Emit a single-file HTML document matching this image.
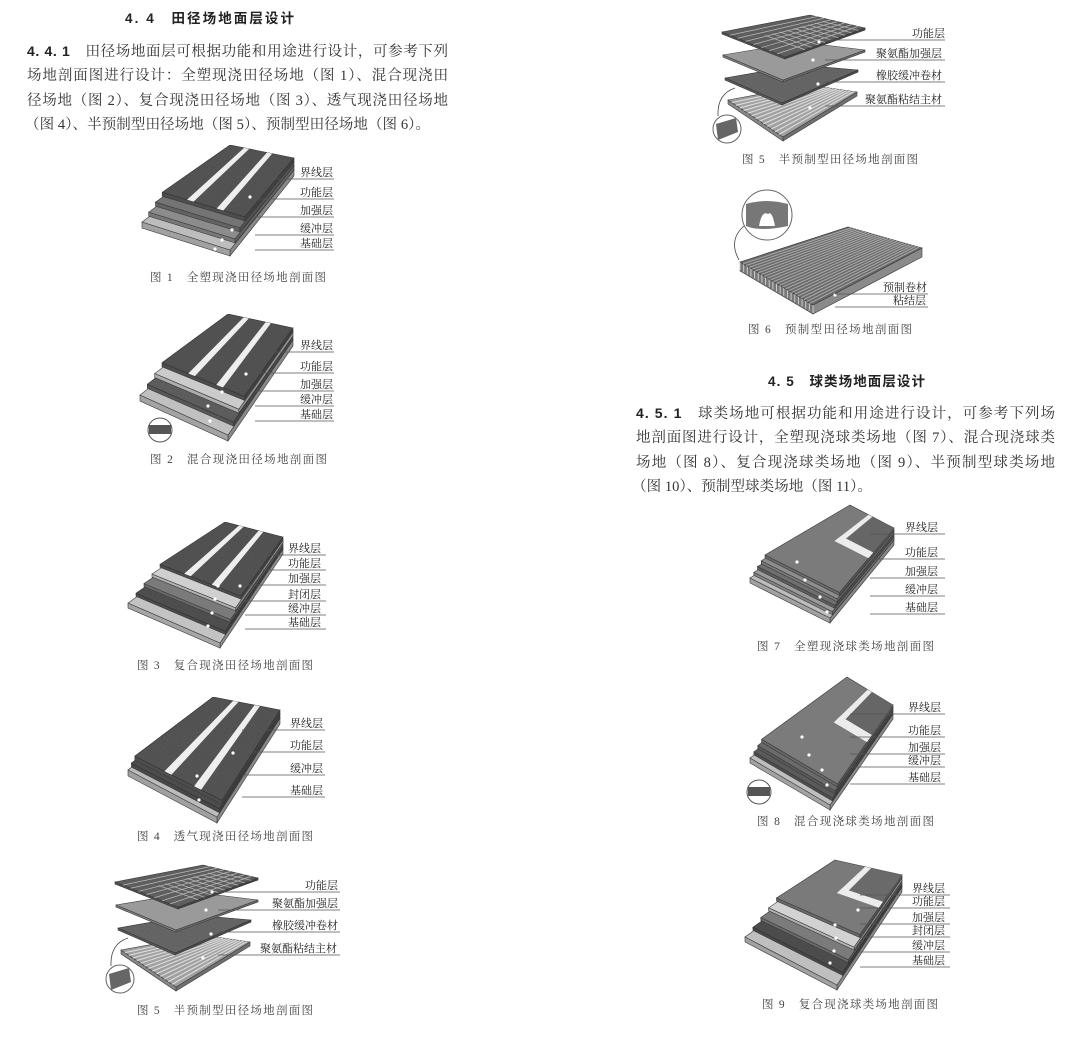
<!DOCTYPE html>
<html><head><meta charset="utf-8">
<style>
html,body{margin:0;padding:0;background:#fff;}
svg{display:block;}
text{font-family:"Liberation Serif","Noto Serif CJK SC","Noto Sans CJK SC",serif;fill:#333;}
.b{font-family:"Liberation Sans","Noto Sans CJK SC",sans-serif;font-weight:bold;fill:#222;}
.p{font-size:14.5px;}
.l{font-size:11px;fill:#222;}
.c{font-size:11.5px;fill:#444;}
</style></head>
<body>
<svg id="s" width="1090" height="1052" viewBox="0 0 1090 1052" xmlns="http://www.w3.org/2000/svg">
<defs>
<filter id="spk" x="0" y="0" width="100%" height="100%">
<feTurbulence type="fractalNoise" baseFrequency="0.9" numOctaves="1" result="n"/>
<feColorMatrix in="n" type="matrix" values="0 0 0 0 0  0 0 0 0 0  0 0 0 0 0  0 0 0 0.35 0" result="a"/>
<feComposite in="a" in2="SourceGraphic" operator="in" result="m"/>
<feMerge><feMergeNode in="SourceGraphic"/><feMergeNode in="m"/></feMerge>
</filter>
</defs>
<g id="shapes"></g>
<g id="labels">
<text class="b" x="125" y="23" font-size="13.5" textLength="169">4. 4　田径场地面层设计</text>
<text class="p" x="27" y="56" textLength="421"><tspan class="b" font-size="14">4. 4. 1</tspan>　田径场地面层可根据功能和用途进行设计，可参考下列</text>
<text class="p" x="27" y="80" textLength="421">场地剖面图进行设计：全塑现浇田径场地（图 1）、混合现浇田</text>
<text class="p" x="27" y="105" textLength="421">径场地（图 2）、复合现浇田径场地（图 3）、透气现浇田径场地</text>
<text class="p" x="25" y="129" textLength="405">（图 4）、半预制型田径场地（图 5）、预制型田径场地（图 6）。</text>
<text class="b" x="768" y="386" font-size="13.5" textLength="157">4. 5　球类场地面层设计</text>
<text class="p" x="636" y="418" textLength="419"><tspan class="b" font-size="14">4. 5. 1</tspan>　球类场地可根据功能和用途进行设计，可参考下列场</text>
<text class="p" x="636" y="442" textLength="419">地剖面图进行设计，全塑现浇球类场地（图 7）、混合现浇球类</text>
<text class="p" x="636" y="467" textLength="419">场地（图 8）、复合现浇球类场地（图 9）、半预制型球类场地</text>
<text class="p" x="632" y="491" textLength="240">（图 10）、预制型球类场地（图 11）。</text>
<text class="c" x="150" y="281" textLength="176">图 1　全塑现浇田径场地剖面图</text>
<text class="c" x="150" y="463" textLength="177">图 2　混合现浇田径场地剖面图</text>
<text class="c" x="137" y="669" textLength="176">图 3　复合现浇田径场地剖面图</text>
<text class="c" x="137" y="840" textLength="176">图 4　透气现浇田径场地剖面图</text>
<text class="c" x="137" y="1014" textLength="176">图 5　半预制型田径场地剖面图</text>
<text class="c" x="742" y="163" textLength="176">图 5　半预制型田径场地剖面图</text>
<text class="c" x="748" y="333" textLength="164">图 6　预制型田径场地剖面图</text>
<text class="c" x="757" y="650" textLength="177">图 7　全塑现浇球类场地剖面图</text>
<text class="c" x="757" y="825" textLength="177">图 8　混合现浇球类场地剖面图</text>
<text class="c" x="762" y="1008" textLength="176">图 9　复合现浇球类场地剖面图</text>
</g>
<g id="lbl"></g>
<script><![CDATA[
var NS="http://www.w3.org/2000/svg";
var S=document.getElementById("shapes"), L=document.getElementById("lbl");
function el(tag,attrs,par){var e=document.createElementNS(NS,tag);for(var k in attrs)e.setAttribute(k,attrs[k]);(par||S).appendChild(e);return e;}
function P(a){return a.map(function(p){return p[0].toFixed(1)+","+p[1].toFixed(1)}).join(" ");}
function poly(pts,fill,extra){var a={points:P(pts),fill:fill,stroke:"#3a3a3a","stroke-width":0.6};if(extra)for(var k in extra)a[k]=extra[k];return el("polygon",a);}
function add(a,b){return [a[0]+b[0],a[1]+b[1]];}
function sub(a,b){return [a[0]-b[0],a[1]-b[1]];}
function mul(a,k){return [a[0]*k,a[1]*k];}
function lerp(a,b,t){return [a[0]+(b[0]-a[0])*t,a[1]+(b[1]-a[1])*t];}
function shade(c,k){var n=parseInt(c.slice(1),16);var r=(n>>16)&255,g=(n>>8)&255,b=n&255;r=Math.min(255,Math.round(r*k));g=Math.min(255,Math.round(g*k));b=Math.min(255,Math.round(b*k));return "rgb("+r+","+g+","+b+")";}
function dot(p){el("circle",{cx:p[0],cy:p[1],r:1.6,fill:"#fff"});}
// slab: back corners TL,TR ; base front corners bFL,bFR ; cols top->bottom ; frac = depth fraction covered by steps ; h layer thickness
function slab(TL,TR,bFL,bFR,cols,frac,h,spk){
  var n=cols.length, DL=sub(TL,bFL), DR=sub(TR,bFR);
  var tops=[];
  for(var k=n-1;k>=0;k--){
    var m=n-1-k, f=n>1?frac*m/(n-1):0;
    var up=[0,-h*m];
    var fl=add(add(bFL,mul(DL,f)),up), fr=add(add(bFR,mul(DR,f)),up);
    var tl=add(TL,[0,h*k]), tr=add(TR,[0,h*k]);
    var hh=(k==n-1)?h+2:h;
    poly([tr,fr,add(fr,[0,hh]),add(tr,[0,hh])],shade(cols[k],0.72));
    poly([fl,fr,add(fr,[0,hh]),add(fl,[0,hh])],shade(cols[k],0.85));
    var t=poly([tl,tr,fr,fl],cols[k]);
    if(spk&&spk[k])t.setAttribute("filter","url(#spk)");
    tops[k]={tl:tl,tr:tr,fl:fl,fr:fr};
  }
  return tops;
}
function bil(f,u,v){return lerp(lerp(f.fl,f.fr,u),lerp(f.tl,f.tr,u),v);}
function stripes(f,list){
  list.forEach(function(s){poly([bil(f,s[0],0),bil(f,s[1],0),bil(f,s[3],1),bil(f,s[2],1)],"#eeeeee",{stroke:"none"});});
}
function Lshape(f,uc,vc,w1,w2,inner){
  if(inner)poly([bil(f,uc,vc),bil(f,1,vc),bil(f,1,1),bil(f,uc,1)],inner,{stroke:"none"});
  poly([bil(f,uc,vc-w2),bil(f,uc+w1,vc-w2),bil(f,uc+w1,1),bil(f,uc,1)],"#ececec",{stroke:"none"});
  poly([bil(f,uc,vc-w2),bil(f,1,vc-w2),bil(f,1,vc),bil(f,uc,vc)],"#ececec",{stroke:"none"});
}
function labels(x,ys,names,xe,lx){
  names.forEach(function(nm,i){
    var t=el("text",{x:x,y:ys[i]+4,"class":"l"},L);t.textContent=nm;
    el("line",{x1:lx,y1:ys[i]+7,x2:xe,y2:ys[i]+7,stroke:"#555","stroke-width":0.8},L);
  });
}
var N5=["界线层","功能层","加强层","缓冲层","基础层"];
// Fig1
var f=slab([230,145],[294,158],[142,222],[230,250],["#5b5b5b","#747474","#8c8c8c","#bdbdbd"],0.23,4,[1]);
stripes(f[0],[[0.3,0.38,0.22,0.3],[0.66,0.74,0.58,0.66]]);
dot([250,197]);dot([232,230]);dot([222,240]);dot([215,249]);
labels(300,[172,192,210,228,243],N5,334,255);
// Fig2
f=slab([228,314],[293,328],[140,395],[228,435],["#5a5a5a","#cbcbcb","#666666","#c0c0c0"],0.25,4,[1,0,1]);
stripes(f[0],[[0.32,0.4,0.24,0.32],[0.66,0.74,0.58,0.66]]);
dot([246,374]);dot([222,392]);dot([208,406]);dot([210,421]);
labels(300,[345,366,384,399,414],N5,334,255);
el("circle",{cx:160,cy:430,r:12,fill:"#fff",stroke:"#555","stroke-width":1});
el("rect",{x:149,y:425,width:22,height:9,fill:"#555"});
// Fig3
f=slab([225,522],[283,537],[128,603],[220,643],["#5a5a5a","#d0d0d0","#7a7a7a","#575757","#c3c3c3"],0.33,3,[1,0,0,1]);
stripes(f[0],[[0.3,0.38,0.24,0.32],[0.64,0.72,0.58,0.66]]);
dot([240,586]);dot([218,586]);dot([215,599]);dot([212,613]);dot([208,626]);
labels(288,[548,563,578,594,608,622],["界线层","功能层","加强层","封闭层","缓冲层","基础层"],326,245);
// Fig4
f=slab([213,697],[280,710],[128,770],[217,817],["#5c5c5c","#555555","#bcbcbc"],0.08,4,[1,1]);
stripes(f[0],[[0.34,0.42,0.3,0.38],[0.68,0.76,0.62,0.7]]);
dot([233,753]);dot([197,776]);dot([199,800]);
labels(290,[723,745,768,790],["界线层","功能层","缓冲层","基础层"],325,242);
// Fig7
f=slab([850,505],[894,528],[750,578],[830,618],["#7b7b7b","#8d8d8d","#6f6f6f","#9a9a9a","#bdbdbd"],0.15,3);
Lshape(f[0],0.42,0.62,0.09,0.09,"#666666");
dot([797,562]);dot([805,580]);dot([820,597]);dot([827,612]);
labels(905,[527,552,571,589,607],N5,945,870);
// Fig8
f=slab([847,677],[893,705],[750,758],[830,805],["#7b7b7b","#6a6a6a","#5a5a5a","#bebebe"],0.12,3);
Lshape(f[0],0.45,0.62,0.09,0.09,"#666666");
dot([802,737]);dot([809,755]);dot([822,770]);dot([827,785]);
labels(908,[707,730,747,760,777],N5,945,850);
el("circle",{cx:759,cy:792,r:12,fill:"#fff",stroke:"#555","stroke-width":1});
el("rect",{x:748,y:787,width:22,height:9,fill:"#555"});
// Fig9
f=slab([835,860],[902,875],[745,937],[837,985],["#7a7a7a","#d2d2d2","#7b7b7b","#555555","#bfbfbf"],0.35,3,[0,0,0,1]);
Lshape(f[0],0.45,0.55,0.09,0.1,"#6a6a6a");
dot([858,910]);dot([835,925]);dot([836,938]);dot([834,951]);dot([830,963]);
labels(912,[888,901,917,930,945,960],["界线层","功能层","加强层","封闭层","缓冲层","基础层"],950,860);
// Fig5 exploded
function fig5(ox,oy){
  function T(p){return [p[0]+ox,p[1]+oy];}
  var pan=[
    [[728,100],[810,85],[857,92],[783,137],"#a0a0a0","str"],
    [[725,78],[800,65],[858,70],[782,103],"#6e6e6e","spk"],
    [[723,55],[800,42],[865,50],[783,80],"#9a9a9a",""],
    [[722,32],[810,15],[865,28],[785,57],"#5e5e5e","grid"]];
  pan.forEach(function(q){
    var a=T(q[0]),b=T(q[1]),c=T(q[2]),d=T(q[3]);
    var th=q[5]=="str"?4:2;
    poly([d,c,add(c,[0,th]),add(d,[0,th])],shade(q[4],0.7));
    poly([a,d,add(d,[0,th]),add(a,[0,th])],shade(q[4],0.85));
    var t=poly([a,b,c,d],q[4]);
    if(q[5]=="spk")t.setAttribute("filter","url(#spk)");
    if(q[5]=="str"){for(var i=1;i<14;i++){var u=i/14;el("line",{x1:lerp(a,d,u)[0],y1:lerp(a,d,u)[1],x2:lerp(b,c,u)[0],y2:lerp(b,c,u)[1],stroke:"#ddd","stroke-width":1.1});}}
    if(q[5]=="grid"){for(var i=1;i<8;i++){var u=i/8;el("line",{x1:lerp(a,d,u)[0],y1:lerp(a,d,u)[1],x2:lerp(b,c,u)[0],y2:lerp(b,c,u)[1],stroke:"#bbb","stroke-width":0.7});}
      for(var j=3;j<12;j++){var u=j/12;var p1=lerp(a,b,u),p2=lerp(d,c,u);p1=lerp(p1,p2,0.35);el("line",{x1:p1[0],y1:p1[1],x2:p2[0],y2:p2[1],stroke:"#bbb","stroke-width":0.7});}}
  });
  dot(T([819,42]));dot(T([813,60]));dot(T([818,84]));dot(T([810,108]));
  var c=T([727,129]);
  el("circle",{cx:c[0],cy:c[1],r:14,fill:"#fff",stroke:"#666","stroke-width":1});
  el("polygon",{points:P([T([716,124]),T([736,118]),T([738,132]),T([718,140])]),fill:"#666"});
  var s=T([735,88]),e=T([718,116]);
  el("path",{d:"M"+s[0]+","+s[1]+" Q"+(s[0]-18)+","+(s[1]+6)+" "+e[0]+","+e[1],fill:"none",stroke:"#444","stroke-width":0.8});
}
fig5(0,0);fig5(-607,850);
labels(912,[33,53,75,99],["功能层","聚氨酯加强层","橡胶缓冲卷材","聚氨酯粘结主材"],945,825);
(function(){var ch=L.children,n=ch.length;ch[n-6].setAttribute("x",876);ch[n-4].setAttribute("x",876);ch[n-2].setAttribute("x",865);})();
labels(305,[885,903,925,948],["功能层","聚氨酯加强层","橡胶缓冲卷材","聚氨酯粘结主材"],340,218);
(function(){var ch=L.children,n=ch.length;ch[n-6].setAttribute("x",272);ch[n-4].setAttribute("x",272);ch[n-2].setAttribute("x",260);})();
// Fig6
(function(){
  var a=[740,262],b=[848,227],c=[922,248],d=[813,305];
  poly([d,c,add(c,[0,9]),add(d,[0,9])],"#8a8a8a");
  poly([a,d,add(d,[0,9]),add(a,[0,9])],"#777");
  for(var i=0;i<=20;i++){var u=i/20;var p=lerp(a,d,u);el("line",{x1:p[0],y1:p[1],x2:p[0],y2:p[1]+8,stroke:"#ccc","stroke-width":1});}
  poly([a,b,c,d],"#6a6a6a");
  for(var i=1;i<24;i++){var u=i/24;var p1=lerp(a,d,u),p2=lerp(b,c,u);el("line",{x1:p1[0],y1:p1[1],x2:p2[0],y2:p2[1],stroke:"#aaa","stroke-width":1});}
  el("circle",{cx:767,cy:215,r:25,fill:"#fff",stroke:"#666","stroke-width":1});
  el("path",{d:"M746,204 Q766,198 788,204 L788,226 Q760,232 746,226 Z",fill:"#777"});
  el("path",{d:"M759,226 Q762,210 768,214 Q772,210 775,226 Z",fill:"#fff"});
  el("path",{d:"M739,260 Q728,240 744,226",fill:"none",stroke:"#444","stroke-width":0.8});
  dot([835,295]);
})();
labels(883,[287,300],["预制卷材","粘结层"],928,835);
L.children[L.children.length-2].setAttribute("x",893);
]]></script>
</svg>
</body></html>
